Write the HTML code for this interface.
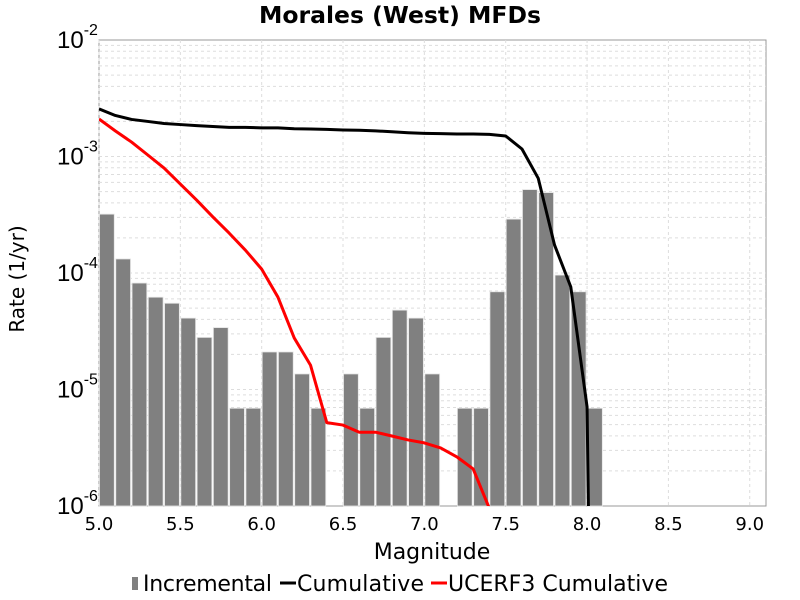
<!DOCTYPE html>
<html><head><meta charset="utf-8"><style>
body{margin:0;background:#fff}
svg{display:block;font-family:"DejaVu Sans","Liberation Sans",sans-serif}
</style></head><body>
<svg id="chart" width="800" height="600">
<text x="400" y="23" text-anchor="middle" font-size="23.5" font-weight="bold">Morales (West) MFDs</text>
<rect x="99" y="40" width="667" height="466" fill="#fff" stroke="#999"/>
<g id="grid"></g><g id="bars"></g><g id="lines"></g><g id="axes"></g>
<text x="432" y="559" text-anchor="middle" font-size="22">Magnitude</text>
<text transform="translate(24,279) rotate(-90)" text-anchor="middle" font-size="20">Rate (1/yr)</text>
<g font-size="22">
<rect x="132" y="577" width="6" height="13" fill="#808080"/>
<text x="143" y="591" textLength="129">Incremental</text>
<line x1="280" y1="583" x2="296" y2="583" stroke="#000" stroke-width="3"/>
<text x="297" y="591" textLength="127">Cumulative</text>
<line x1="431" y1="583" x2="447" y2="583" stroke="#f00" stroke-width="3"/>
<text x="448" y="591" textLength="220">UCERF3 Cumulative</text>
</g>
</svg>
<script>
const mags=[5.0,5.1,5.2,5.3,5.4,5.5,5.6,5.7,5.8,5.9,6.0,6.1,6.2,6.3,6.4,6.5,6.6,6.7,6.8,6.9,7.0,7.1,7.2,7.3,7.4,7.5,7.6,7.7,7.8,7.9,8.0];
const incremental=[3.2e-4,1.32e-4,8.2e-5,6.2e-5,5.5e-5,4.1e-5,2.8e-5,3.4e-5,6.9e-6,6.9e-6,2.1e-5,2.1e-5,1.36e-5,6.9e-6,0,1.36e-5,6.9e-6,2.8e-5,4.8e-5,4.1e-5,1.36e-5,0,6.9e-6,6.9e-6,6.9e-5,2.9e-4,5.2e-4,4.9e-4,9.6e-5,6.9e-5,6.9e-6];
const cumMags=[5.0,5.1,5.2,5.3,5.4,5.5,5.6,5.7,5.8,5.9,6.0,6.1,6.2,6.3,6.4,6.5,6.6,6.7,6.8,6.9,7.0,7.1,7.2,7.3,7.4,7.5,7.6,7.7,7.8,7.9,8.0,8.01];
const cumulative=[2.56e-3,2.25e-3,2.08e-3,2.0e-3,1.92e-3,1.88e-3,1.84e-3,1.81e-3,1.78e-3,1.78e-3,1.76e-3,1.76e-3,1.73e-3,1.72e-3,1.71e-3,1.69e-3,1.68e-3,1.66e-3,1.63e-3,1.6e-3,1.58e-3,1.57e-3,1.56e-3,1.56e-3,1.55e-3,1.5e-3,1.16e-3,6.5e-4,1.74e-4,7.6e-5,7.1e-6,1e-7];
const ucerfMags=[5.0,5.1,5.2,5.3,5.4,5.5,5.6,5.7,5.8,5.9,6.0,6.1,6.2,6.3,6.4,6.5,6.6,6.7,6.8,6.9,7.0,7.1,7.2,7.3,7.4];
const ucerf=[2.1e-3,1.66e-3,1.33e-3,1.03e-3,7.96e-4,5.8e-4,4.23e-4,3.03e-4,2.2e-4,1.57e-4,1.08e-4,6.2e-5,2.77e-5,1.62e-5,5.2e-6,4.95e-6,4.3e-6,4.3e-6,3.99e-6,3.69e-6,3.48e-6,3.15e-6,2.64e-6,2.08e-6,9.5e-7];
const xTicks=["5.0","5.5","6.0","6.5","7.0","7.5","8.0","8.5","9.0"];
const yDecades=[-2,-3,-4,-5,-6];

const NS="http://www.w3.org/2000/svg";
const X0=99,X1=766,Y0=40,Y1=506;
const xs=m=>X0+(m-5.0)*(X1-X0)/4.1;
const ys=v=>{let y=Y0+(-2-Math.log10(v))*(Y1-Y0)/4;return Math.min(Math.max(y,Y0),Y1+20);};
function mk(tag,attrs,parent){const e=document.createElementNS(NS,tag);for(const k in attrs)e.setAttribute(k,attrs[k]);parent.appendChild(e);return e;}
const grid=document.getElementById('grid'),bars=document.getElementById('bars'),lines=document.getElementById('lines'),axes=document.getElementById('axes');
for(let d=-6;d<-2;d++){for(let k=1;k<10;k++){const y=ys(k*Math.pow(10,d));if(y<=Y0+0.5||y>=Y1-0.5)continue;
 const l=mk('line',{x1:X0,x2:X1,y1:y,y2:y,stroke:'#ddd','stroke-dasharray':'3,3','stroke-width':1},grid);
 
 }}
xTicks.forEach(t=>{const x=xs(parseFloat(t));
 const l=mk('line',{x1:x,x2:x,y1:Y0,y2:Y1,stroke:'#ddd','stroke-dasharray':'3,3'},grid);
 
 
 const tx=mk('text',{x:x,y:530,'text-anchor':'middle','font-size':18},axes);tx.textContent=t;
 
 });
yDecades.forEach(d=>{const y=ys(Math.pow(10,d));
 const tx=mk('text',{x:57,y:y+8,'text-anchor':'start','font-size':24,'font-family':'Liberation Sans, sans-serif'},axes);
 
 
 tx.appendChild(document.createTextNode('10'));
 const s=mk('tspan',{dy:-13,'font-size':16},tx);s.textContent=String(d);});
mags.forEach((m,i)=>{const v=incremental[i];if(!v)return;const x=xs(m),w=xs(m+0.1)-x,y=ys(v);
 const r=mk('rect',{x:x+0.5,y:y,width:w-1.5,height:Y1-y,fill:'#808080',stroke:'#e6e6e6','stroke-width':0.8},bars);
 
 });
function poly(mm,vv,color,name){const pts=mm.map((m,i)=>xs(m)+','+ys(vv[i])).join(' ');
 const p=mk('polyline',{points:pts,fill:'none',stroke:color,'stroke-width':3,'stroke-linejoin':'round'},lines);
 
 }
const cp=mk('clipPath',{id:'clp'},document.getElementById('chart'));
mk('rect',{x:X0,y:Y0,width:X1-X0,height:Y1-Y0},cp);
lines.setAttribute('clip-path','url(#clp)');
poly(ucerfMags,ucerf,'#f00','ucerf3-cumulative-line');
poly(cumMags,cumulative,'#000','cumulative-line');
</script>
</body></html>
